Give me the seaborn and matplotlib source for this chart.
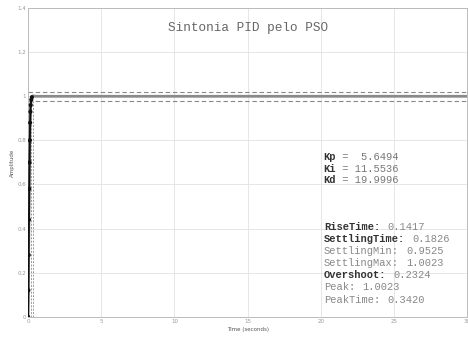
import matplotlib
matplotlib.use("Agg")
import matplotlib.pyplot as plt
import seaborn as sns
import pandas as pd

# ---- data ----
time_s = [0, 0.02, 0.04, 0.06, 0.08, 0.10, 0.12, 0.14, 0.16, 0.18, 0.22, 0.26,
          0.30, 0.342, 0.40, 0.50, 1.0, 2.0, 5.0, 10.0, 20.0, 30.0]
amplitude = [0, 0.12, 0.28, 0.44, 0.58, 0.70, 0.80, 0.88, 0.93, 0.96, 0.985, 0.996,
             1.001, 1.0023, 1.001, 1.0, 1.0, 1.0, 1.0, 1.0, 1.0, 1.0]
n_marked = 12
settling_band = [0.98, 1.02]
marker_times = [0.1826, 0.3420]

title = "Sintonia PID pelo PSO"
gain_names = ["Kp", "Ki", "Kd"]
gain_values = [" 5.6494", "11.5536", "19.9996"]
info_names = ["RiseTime", "SettlingTime", "SettlingMin", "SettlingMax", "Overshoot", "Peak", "PeakTime"]
info_values = ["0.1417", "0.1826", "0.9525", "1.0023", "0.2324", "1.0023", "0.3420"]
info_bold = [True, True, False, False, True, False, False]
x_ticks = [0, 5, 10, 15, 20, 25, 30]
y_ticks = [0, 0.2, 0.4, 0.6, 0.8, 1.0, 1.2, 1.4]
y_tick_labels = ["0", "0.2", "0.4", "0.6", "0.8", "1", "1.2", "1.4"]

df = pd.DataFrame({"t": time_s, "y": amplitude})

sns.set_style("white")
fig = plt.figure(figsize=(4.68, 3.37), dpi=100)
ax = fig.add_axes([0.06, 0.06, 0.938, 0.916])

ax.grid(True, color="#e2e2e2", linewidth=0.6)
ax.set_axisbelow(True)

for yb in settling_band:
    ax.axhline(yb, color="#888888", linewidth=0.8, linestyle=(0, (4, 2.5)), zorder=2)
for xt in marker_times:
    ax.axvline(xt, ymin=0, ymax=0.98 / 1.4, color="#999999", linewidth=0.7,
               linestyle=(0, (2, 1.5)), zorder=2)

sns.lineplot(data=df, x="t", y="y", ax=ax, color="#8a8a8a", linewidth=2.0, zorder=3)
sns.lineplot(data=df.iloc[:n_marked], x="t", y="y", ax=ax, color="#111111", linewidth=1.4, zorder=4)
sns.scatterplot(data=df.iloc[:n_marked], x="t", y="y", ax=ax, color="#111111", s=9,
                edgecolor="none", zorder=5)

ax.set_xlim(0, 30)
ax.set_ylim(0, 1.4)
ax.set_xticks(x_ticks)
ax.set_yticks(y_ticks)
ax.set_yticklabels(y_tick_labels)
ax.tick_params(labelsize=4, colors="#999999", length=2.5, width=0.5, pad=1.5,
               direction="in")
ax.set_xlabel("Time (seconds)", fontsize=4, color="#555555", labelpad=2)
ax.set_ylabel("Amplitude", fontsize=4, color="#555555", labelpad=2)
for sp in ax.spines.values():
    sp.set_color("#bbbbbb")
    sp.set_linewidth(0.7)

mono = "Liberation Mono"
ax.text(0.319, 0.935, title, transform=ax.transAxes, family=mono, fontsize=9.2,
        color="#666666", ha="left", va="center")

# gains
y0 = 157
for i, (n, v) in enumerate(zip(gain_names, gain_values)):
    ypix = y0 + i * 11.7
    yf = 1 - ypix / 337
    fig.text(323 / 468, yf, n, family=mono, fontsize=7.5, fontweight="bold",
             color="#333333", va="center")
    fig.text(323 / 468 + 2 * 6.3 / 468, yf, " = " + v, family=mono, fontsize=7.5,
             color="#777777", va="center")

y1 = 227
for i, (n, v, b) in enumerate(zip(info_names, info_values, info_bold)):
    ypix = y1 + i * 12.1
    yf = 1 - ypix / 337
    fig.text(324 / 468, yf, n + ":", family=mono, fontsize=7.5,
             fontweight="bold" if b else "normal",
             color="#333333" if b else "#888888", va="center")
    fig.text(324 / 468 + (len(n) + 2) * 6.3 / 468, yf, v, family=mono, fontsize=7.5,
             color="#888888", va="center")

fig.savefig("out.png", dpi=100)
